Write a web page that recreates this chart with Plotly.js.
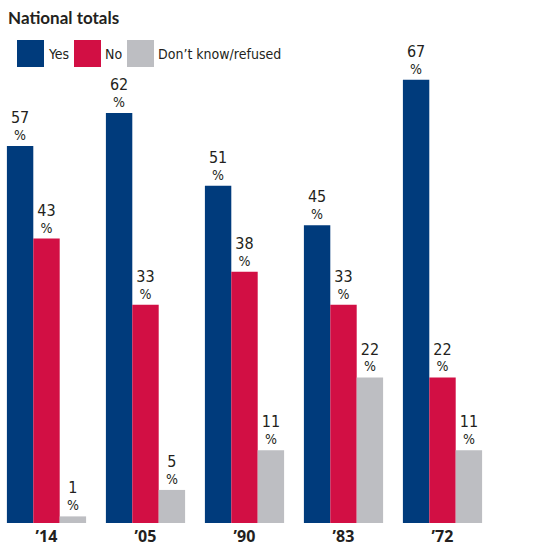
<!DOCTYPE html>
<html><head><meta charset="utf-8">
<script src="https://cdn.plot.ly/plotly-3.0.1.min.js"></script>
<style>html,body{margin:0;padding:0;background:#fff}</style>
</head><body>
<div id="chart" style="width:533px;height:548px"></div>
<script>
const categories = ["\u201914", "\u201905", "\u201990", "\u201983", "\u201972"];
const seriesNames = ["Yes", "No", "Don\u2019t know/refused"];
const yesValues = [57, 62, 51, 45, 67];
const noValues = [43, 33, 38, 33, 22];
const dkValues = [1, 5, 11, 22, 11];
const colors = ["#003b7c", "#d20f44", "#bdbec2"];

const condensed = "DejaVu Sans Condensed, Liberation Sans Narrow, sans-serif";
const labelFont = {family: condensed, size: 13, color: "#231f20"};
const allValues = [yesValues, noValues, dkValues];
const traces = allValues.map((vals, i) => ({
  type: "bar",
  x: categories,
  y: vals,
  name: seriesNames[i],
  marker: {color: colors[i]},
  text: vals.map(v => '<span style="font-size:16px">' + v + '</span><br><span style="font-size:14px">%</span>'),
  textposition: "outside",
  outsidetextfont: labelFont,
  cliponaxis: false,
  hoverinfo: "skip",
  showlegend: false
}));

// legend drawn as shapes + annotations
const legendX = [17, 74, 127];
const W = 492;
const shapes = seriesNames.map((n, i) => ({
  type: "rect", xref: "paper", yref: "paper",
  x0: legendX[i] / W, x1: (legendX[i] + 27) / W,
  y0: (523 - 67) / 463, y1: (523 - 40) / 463,
  fillcolor: colors[i], line: {width: 0}
}));
const annotations = seriesNames.map((n, i) => ({
  xref: "paper", yref: "paper",
  x: (legendX[i] + 29) / W, y: (523 - 54) / 463,
  xanchor: "left", yanchor: "middle",
  text: n, showarrow: false,
  font: {family: condensed, size: 14, color: "#231f20"}
}));

const layout = {
  width: 533, height: 548,
  margin: {l: 0, r: 41, t: 60, b: 25},
  paper_bgcolor: "#fff", plot_bgcolor: "#fff",
  barmode: "group", bargap: 0.2, bargroupgap: 0,
  title: {
    text: "<b>National totals</b>",
    x: 8 / 533, xref: "container", xanchor: "left",
    y: 1 - 18 / 548, yref: "container", yanchor: "middle",
    font: {family: "Lato, Noto Sans, sans-serif", size: 17, color: "#231f20"}
  },
  xaxis: {
    range: [-0.4697, 4.5], showgrid: false, zeroline: false, showline: false,
    ticks: "", ticklabelstandoff: 2,
    tickfont: {family: "Noto Sans, sans-serif", size: 16, color: "#231f20", weight: "bold"},
    fixedrange: true
  },
  yaxis: {
    range: [0, 70], visible: false, showgrid: false, zeroline: false, fixedrange: true
  },
  shapes: shapes,
  annotations: annotations,
  showlegend: false
};
Plotly.newPlot("chart", traces, layout, {staticPlot: true, displayModeBar: false});
</script>
</body></html>
